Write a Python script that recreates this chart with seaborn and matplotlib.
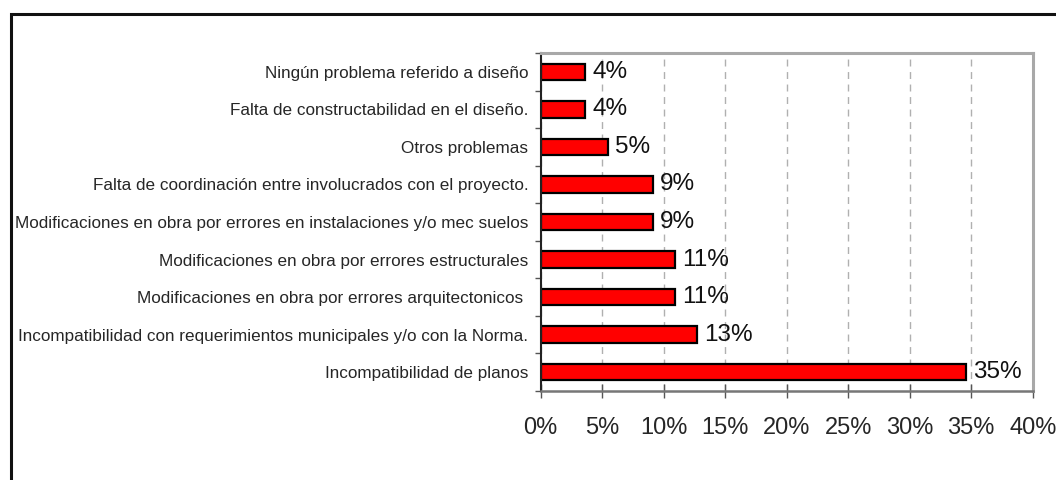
import matplotlib
matplotlib.use("Agg")
import matplotlib.pyplot as plt
from matplotlib.patches import Rectangle
from matplotlib.ticker import FixedLocator, PercentFormatter
import seaborn as sns
import pandas as pd

categories = [
    "Ningún problema referido a diseño",
    "Falta de constructabilidad en el diseño.",
    "Otros problemas",
    "Falta de coordinación entre involucrados con el proyecto.",
    "Modificaciones en obra por errores en instalaciones y/o mec suelos",
    "Modificaciones en obra por errores estructurales",
    "Modificaciones en obra por errores arquitectonicos ",
    "Incompatibilidad con requerimientos municipales y/o con la Norma.",
    "Incompatibilidad de planos",
]
values = [3.64, 3.64, 5.45, 9.09, 9.09, 10.91, 10.91, 12.73, 34.55]
value_labels = ["4%", "4%", "5%", "9%", "9%", "11%", "11%", "13%", "35%"]
xticks = [0, 5, 10, 15, 20, 25, 30, 35, 40]

df = pd.DataFrame({"cat": categories, "val": values})

sns.set_theme(style="white")
plt.rcParams["font.family"] = ["Liberation Sans", "DejaVu Sans"]

fig = plt.figure(figsize=(10.56, 4.8), dpi=100)
ax = fig.add_axes([0.512, 0.1854, 0.978 - 0.512, 0.8896 - 0.1854])

sns.barplot(data=df, x="val", y="cat", orient="h", color="#ff0000",
            edgecolor="black", linewidth=1.6, width=0.44, saturation=1, ax=ax)

ax.set_xlim(0, 40)
ax.set_ylim(8.5, -0.5)
ax.set_xlabel("")
ax.set_ylabel("")
ax.xaxis.set_major_locator(FixedLocator(xticks))
ax.xaxis.set_major_formatter(PercentFormatter(decimals=0))
ax.grid(axis="x", color="#b0b0b0", linestyle=(0, (5, 4)), linewidth=1.0)
ax.grid(axis="y", visible=False)
ax.set_axisbelow(True)

ax.tick_params(axis="x", which="major", direction="inout", length=10, width=1,
               color="#555555", labelsize=17, pad=14, bottom=True)
ax.tick_params(axis="y", which="major", length=0, labelsize=12.3, pad=9, left=True)
ax.yaxis.set_minor_locator(FixedLocator([i - 0.5 for i in range(len(categories) + 1)]))
ax.tick_params(axis="y", which="minor", direction="out", length=4.5, width=1,
               color="#555555", left=True)

for sp in ["top", "right"]:
    ax.spines[sp].set_color("#a8a8a8")
    ax.spines[sp].set_linewidth(2.2)
ax.spines["bottom"].set_color("#777777")
ax.spines["bottom"].set_linewidth(1.8)
ax.spines["left"].set_color("#222222")
ax.spines["left"].set_linewidth(1.5)

for bar, lab in zip(ax.patches, value_labels):
    w = bar.get_width()
    yc = bar.get_y() + bar.get_height() / 2
    ax.annotate(lab, (w, yc), xytext=(5, 0), textcoords="offset points",
                ha="left", va="center", fontsize=17.5, color="#111111")

fig.patches.append(Rectangle((11 / 1056, -0.05), 1.1, 1 - 14 / 480 + 0.05,
                             transform=fig.transFigure, fill=False,
                             edgecolor="#111111", linewidth=2.2, zorder=0))

fig.savefig("out.png", dpi=100, facecolor="white")
